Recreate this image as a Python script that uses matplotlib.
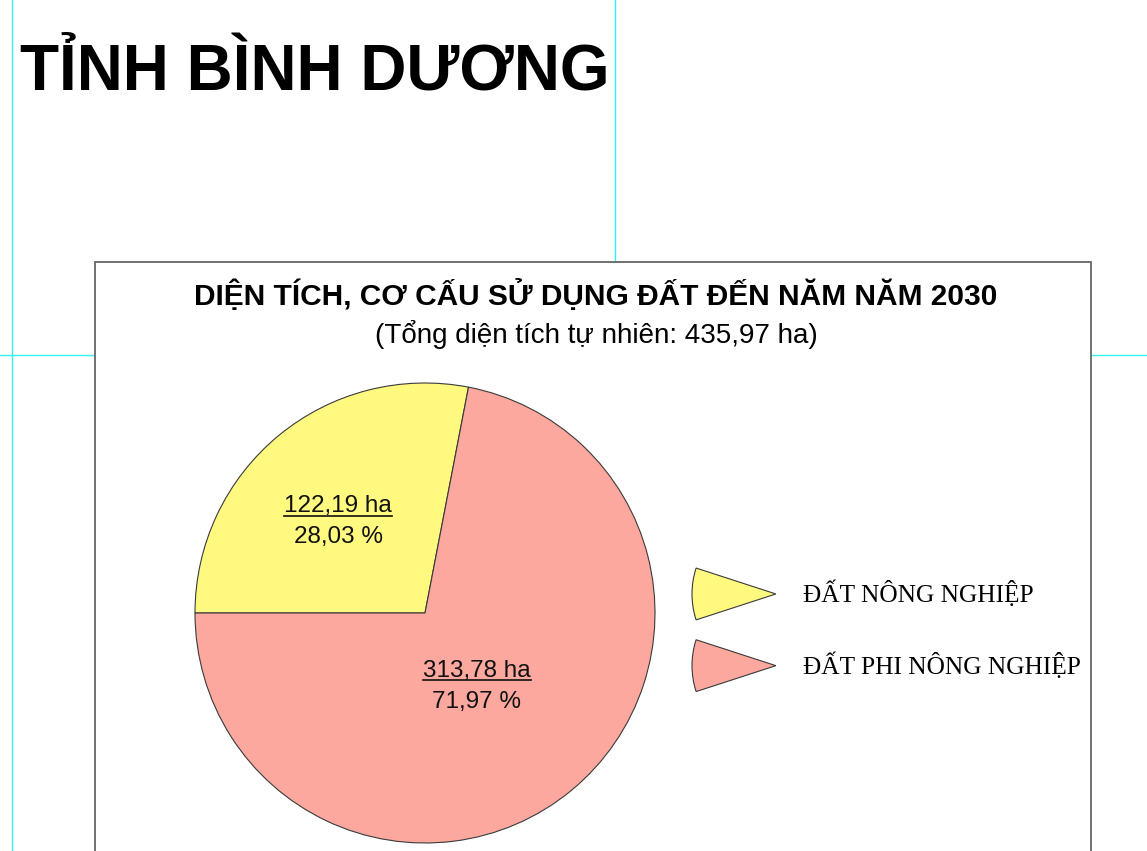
import matplotlib
matplotlib.use("Agg")
import matplotlib.pyplot as plt
from matplotlib.patches import Wedge, Rectangle, Patch
from matplotlib.legend_handler import HandlerPatch
from matplotlib.lines import Line2D

# ---- data ----
categories = ["ĐẤT NÔNG NGHIỆP", "ĐẤT PHI NÔNG NGHIỆP"]
areas_ha = [122.19, 313.78]
shares_pct = [28.03, 71.97]
area_labels = ["122,19 ha", "313,78 ha"]
pct_labels = ["28,03 %", "71,97 %"]
colors = ["#FFF97F", "#FCA89E"]

page_title = "TỈNH BÌNH DƯƠNG"
chart_title = "DIỆN TÍCH, CƠ CẤU SỬ DỤNG ĐẤT ĐẾN NĂM NĂM 2030"
chart_subtitle = "(Tổng diện tích tự nhiên: 435,97 ha)"

W, H = 1147, 851
DPI = 100
fig = plt.figure(figsize=(W / DPI, H / DPI), dpi=DPI)
fig.patch.set_facecolor("white")


def fx(px):
    return px / W


def fy(py):
    return (H - py) / H


# cyan guide lines
cyan = "#33F0F0"
fig.add_artist(Line2D([fx(12), fx(12)], [0, 1], color=cyan, lw=1.0, zorder=1))
fig.add_artist(Line2D([fx(615), fx(615)], [0, 1], color=cyan, lw=1.0, zorder=1))
fig.add_artist(Line2D([0, 1], [fy(355), fy(355)], color=cyan, lw=1.0, zorder=1))

# chart frame
frame = Rectangle((fx(95), fy(900)), fx(1091) - fx(95), fy(262) - fy(900),
                  transform=fig.transFigure, facecolor="white",
                  edgecolor="#666666", lw=1.3, zorder=2)
fig.add_artist(frame)

# page title
fig.text(fx(20), fy(90), page_title, fontsize=46, fontweight="bold",
         family="Liberation Sans", ha="left", va="baseline", zorder=5)

# chart titles
fig.text(fx(596), fy(305), chart_title, fontsize=21.5, fontweight="bold",
         family="Liberation Sans", ha="center", va="baseline", zorder=5)
fig.text(fx(596), fy(343), chart_subtitle, fontsize=20,
         family="Liberation Sans", ha="center", va="baseline", zorder=5)

# pie axes
cx, cy, r = 425, 613, 230
ax = fig.add_axes([fx(cx - r), fy(cy + r), fx(2 * r), (2 * r) / H], zorder=3)
ax.set_facecolor("none")
wedges, _ = ax.pie(areas_ha, colors=colors, startangle=180, counterclock=False,
                   wedgeprops=dict(edgecolor="#3a3a3a", linewidth=0.8),
                   radius=1.0, center=(0, 0))
ax.set_xlim(-1, 1)
ax.set_ylim(-1, 1)
ax.set_aspect("equal")
ax.axis("off")

# label positions (layout, in pie radius units)
label_pos = [(-0.378, 0.439), (0.225, -0.278)]
label_gap = 0.133
top_texts = []
for (lx, ly), a_lab, p_lab in zip(label_pos, area_labels, pct_labels):
    t = ax.text(lx, ly, a_lab, ha="center", va="baseline", fontsize=17.5,
                family="Liberation Sans", color="#111111")
    ax.text(lx, ly - label_gap, p_lab, ha="center", va="baseline", fontsize=17.5,
            family="Liberation Sans", color="#111111")
    top_texts.append(t)


# legend with wedge-shaped handles
class WedgeHandler(HandlerPatch):
    def create_artists(self, legend, orig_handle, xdescent, ydescent, width,
                       height, fontsize, trans):
        tip = (width - xdescent, height / 2 - ydescent)
        w = Wedge(tip, width, 162, 198,
                  facecolor=orig_handle.get_facecolor(),
                  edgecolor="#3a3a3a", lw=0.8)
        w.set_transform(trans)
        return [w]


handles = [Patch(facecolor=c) for c in colors]
leg = fig.legend(handles, categories, loc="upper left",
                 bbox_to_anchor=(fx(692), fy(574)), frameon=False,
                 prop=dict(family="Liberation Serif", size=18.3),
                 handlelength=3.3, handleheight=2.04, handletextpad=1.05,
                 labelspacing=1.25, borderpad=0, borderaxespad=0,
                 handler_map={Patch: WedgeHandler()})
leg.set_zorder(6)

# underline the area labels
fig.canvas.draw()
renderer = fig.canvas.get_renderer()
for t in top_texts:
    bb = t.get_window_extent(renderer=renderer)
    x0, x1 = bb.x0, bb.x1
    xb, yb = ax.transData.transform(t.get_position())
    yline = yb - 3.5
    fig.add_artist(Line2D([x0 / W, x1 / W], [yline / H, yline / H],
                          color="#111111", lw=1.2, zorder=7))

fig.savefig("out.png", dpi=DPI)
